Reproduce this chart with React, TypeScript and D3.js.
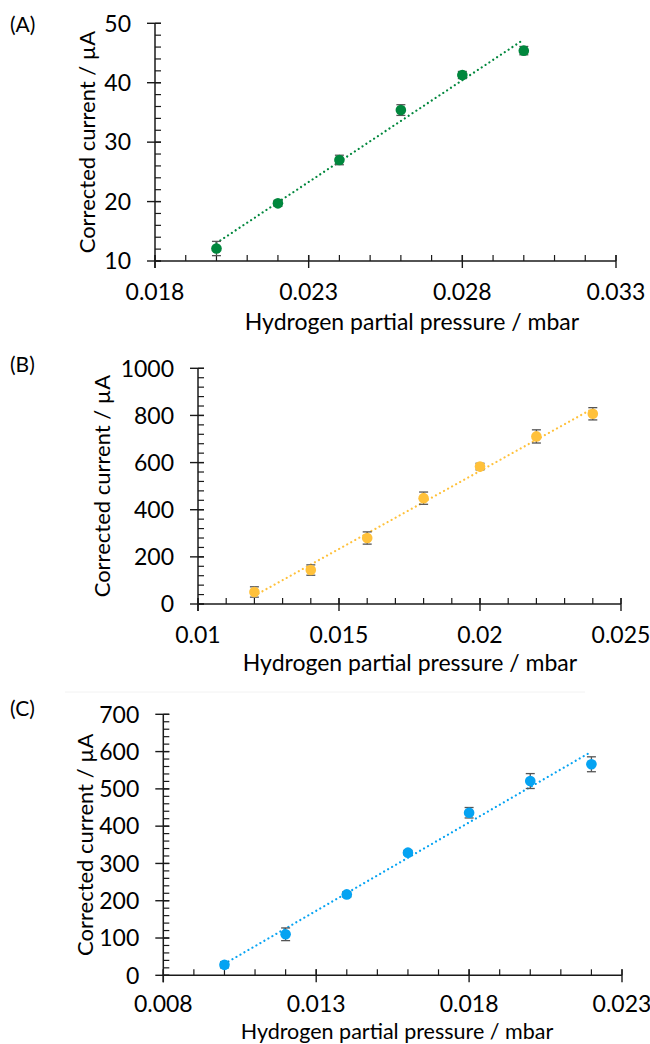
import React from 'react';
import * as d3 from 'd3';

// panel A
const pressureA = [0.02, 0.022, 0.024, 0.026, 0.028, 0.03];
const currentA = [12.1, 19.7, 27.0, 35.4, 41.3, 45.4];
const errorA = [1.2, 0.5, 0.8, 0.9, 0.6, 0.7];
const xTicksA = [0.018, 0.023, 0.028, 0.033];
const yTicksA = [10, 20, 30, 40, 50];

// panel B
const pressureB = [0.012, 0.014, 0.016, 0.018, 0.02, 0.022, 0.024];
const currentB = [51, 144, 280, 449, 583, 711, 807];
const errorB = [22, 22, 26, 26, 14, 28, 26];
const xTicksB = [0.01, 0.015, 0.02, 0.025];
const yTicksB = [0, 200, 400, 600, 800, 1000];

// panel C
const pressureC = [0.01, 0.012, 0.014, 0.016, 0.018, 0.02, 0.022];
const currentC = [28, 110, 217, 329, 436, 521, 566];
const errorC = [8, 17, 7, 6, 14, 20, 20];
const xTicksC = [0.008, 0.013, 0.018, 0.023];
const yTicksC = [0, 100, 200, 300, 400, 500, 600, 700];

const FONT = 'Lato, "Open Sans", sans-serif';

type PanelProps = {
  label: string;
  labelY: number;
  xs: number[];
  ys: number[];
  errs: number[];
  xTicks: number[];
  yTicks: number[];
  xMinor: number;
  yMinor: number;
  color: string;
  left: number;
  right: number;
  top: number;
  bottom: number;
  yTitleX: number;
  xTitleX: number;
  xTitleY: number;
  xTitleSize?: number;
  tickGap?: number;
};

// least-squares trendline through the points
function fit(xs: number[], ys: number[]) {
  const mx = d3.mean(xs)!;
  const my = d3.mean(ys)!;
  const sxy = d3.sum(xs, (x, i) => (x - mx) * (ys[i] - my));
  const sxx = d3.sum(xs, (x) => (x - mx) ** 2);
  const b = sxy / sxx;
  return (x: number) => my + b * (x - mx);
}

function Panel(p: PanelProps) {
  const x = d3.scaleLinear().domain([p.xTicks[0], p.xTicks[p.xTicks.length - 1]]).range([p.left, p.right]);
  const y = d3.scaleLinear().domain([p.yTicks[0], p.yTicks[p.yTicks.length - 1]]).range([p.bottom, p.top]);
  const [x0, x1] = x.domain();
  const [y0, y1] = y.domain();
  const xMinorTicks = d3.range(x0, x1 + 1e-9, p.xMinor);
  const yMinorTicks = d3.range(y0, y1 + 1e-9, p.yMinor);
  const trend = fit(p.xs, p.ys);
  const xa = p.xs[0];
  const xb = p.xs[p.xs.length - 1];
  const axisColor = '#1a1a1a';
  const tickGap = p.tickGap ?? 39;

  return (
    <g>
      <text x={10} y={p.labelY} fontSize={21} fontFamily={FONT} fill="#000">{p.label}</text>

      {/* minor ticks, inside */}
      {xMinorTicks.map((t, i) => (
        <line key={'xm' + i} x1={x(t)} x2={x(t)} y1={p.bottom} y2={p.bottom - 6} stroke={axisColor} strokeWidth={1.2} />
      ))}
      {yMinorTicks.map((t, i) => (
        <line key={'ym' + i} x1={p.left} x2={p.left + 6} y1={y(t)} y2={y(t)} stroke={axisColor} strokeWidth={1.2} />
      ))}
      {/* major ticks, cross */}
      {p.xTicks.map((t, i) => (
        <line key={'xM' + i} x1={x(t)} x2={x(t)} y1={p.bottom - 6} y2={p.bottom + 7} stroke={axisColor} strokeWidth={1.4} />
      ))}
      {p.yTicks.map((t, i) => (
        <line key={'yM' + i} x1={p.left - 8} x2={p.left + 6} y1={y(t)} y2={y(t)} stroke={axisColor} strokeWidth={1.4} />
      ))}
      <line x1={p.left} x2={p.right} y1={p.bottom} y2={p.bottom} stroke={axisColor} strokeWidth={1.5} />
      <line x1={p.left} x2={p.left} y1={p.top} y2={p.bottom + 7} stroke={axisColor} strokeWidth={1.5} />

      {p.xTicks.map((t, i) => (
        <text key={'xl' + i} x={x(t)} y={p.bottom + tickGap} textAnchor="middle" fontSize={23} fontFamily={FONT} fill="#000">
          {String(t)}
        </text>
      ))}
      {p.yTicks.map((t, i) => (
        <text key={'yl' + i} x={p.left - 24} y={y(t)} dy="0.36em" textAnchor="end" fontSize={23} fontFamily={FONT} fill="#000">
          {String(t)}
        </text>
      ))}

      <text x={p.xTitleX} y={p.xTitleY} textAnchor="middle" fontSize={p.xTitleSize ?? 23} fontFamily={FONT} fill="#000">
        Hydrogen partial pressure / mbar
      </text>
      <text
        transform={`translate(${p.yTitleX},${(p.top + p.bottom) / 2}) rotate(-90)`}
        textAnchor="middle"
        dy="0.35em"
        fontSize={22}
        fontFamily={FONT}
        fill="#000"
      >
        Corrected current / µA
      </text>

      <line
        x1={x(xa)} y1={y(trend(xa))} x2={x(xb)} y2={y(trend(xb))}
        stroke={p.color} strokeWidth={2.2} strokeDasharray="0.01 4.6" strokeLinecap="round"
      />

      {p.xs.map((v, i) => {
        const cx = x(v);
        const yt = y(p.ys[i] + p.errs[i]);
        const yb = y(p.ys[i] - p.errs[i]);
        return (
          <g key={'e' + i} stroke="#555" strokeWidth={1.3}>
            <line x1={cx} x2={cx} y1={yt} y2={yb} />
            <line x1={cx - 4.5} x2={cx + 4.5} y1={yt} y2={yt} />
            <line x1={cx - 4.5} x2={cx + 4.5} y1={yb} y2={yb} />
          </g>
        );
      })}
      {p.xs.map((v, i) => (
        <circle key={'p' + i} cx={x(v)} cy={y(p.ys[i])} r={5.3} fill={p.color} />
      ))}
    </g>
  );
}

export default function App() {
  return (
    <svg width={650} height={1044} style={{ position: 'absolute', left: 0, top: 0, background: '#fff' }}>
      <rect width={650} height={1044} fill="#fff" />
      <Panel
        label="(A)" labelY={32}
        xs={pressureA} ys={currentA} errs={errorA}
        xTicks={xTicksA} yTicks={yTicksA} xMinor={0.001} yMinor={2}
        color="#00873d"
        left={155} right={616} top={23.3} bottom={261}
        yTitleX={87} xTitleX={412} xTitleY={330}
      />
      <Panel
        label="(B)" labelY={372}
        xs={pressureB} ys={currentB} errs={errorB}
        xTicks={xTicksB} yTicks={yTicksB} xMinor={0.001} yMinor={40}
        color="#ffc13b"
        left={198} right={621} top={368.3} bottom={604}
        yTitleX={102} xTitleX={410} xTitleY={671}
      />
      <line x1={65} x2={585} y1={692} y2={692} stroke="#f2f2f2" strokeWidth={1} />
      <Panel
        label="(C)" labelY={716}
        xs={pressureC} ys={currentC} errs={errorC}
        xTicks={xTicksC} yTicks={yTicksC} xMinor={0.001} yMinor={20}
        color="#05a3f2"
        left={163.3} right={622} top={714.3} bottom={975.3}
        yTitleX={85} xTitleX={397} xTitleY={1038.5} xTitleSize={21.5} tickGap={37}
      />
    </svg>
  );
}
